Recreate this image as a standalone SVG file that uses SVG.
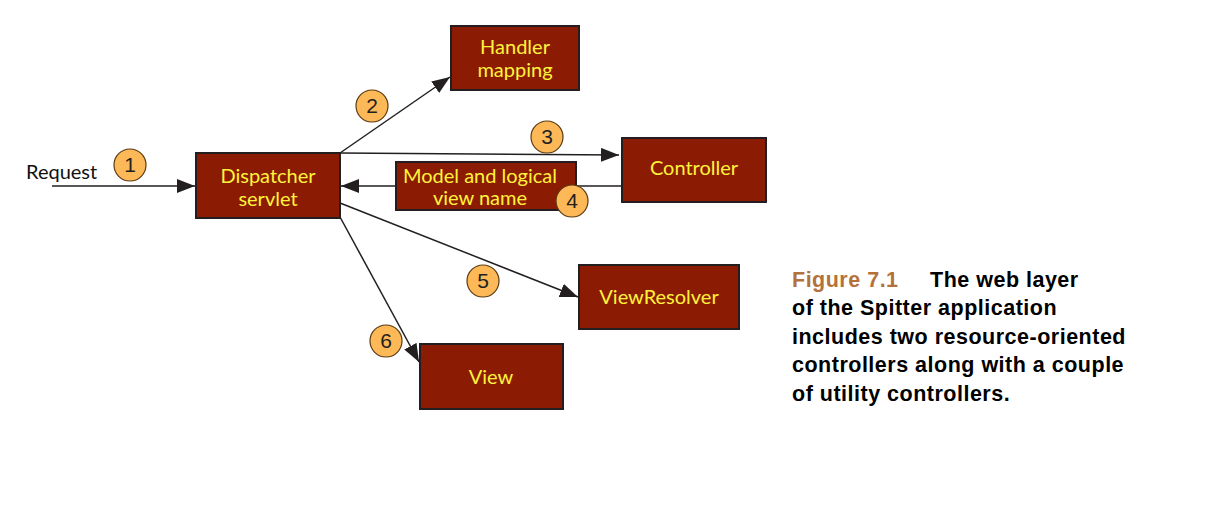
<svg xmlns="http://www.w3.org/2000/svg" width="1214" height="507" viewBox="0 0 1214 507">
<style>
.box{fill:#8B1C03;stroke:#231F20;stroke-width:2}
.lbl{font-family:Lato,"Open Sans",sans-serif;font-size:20px;fill:#FFF23A;text-anchor:middle}
.num{fill:#FDB958;stroke:#5a3a10;stroke-width:1.2}
.numt{font-family:"Liberation Sans",Arial,sans-serif;font-size:21px;fill:#231F20;text-anchor:middle}
.ln{stroke:#231F20;stroke-width:1.5;fill:none}
.cap{font-family:"Liberation Sans",Arial,sans-serif;font-size:21.5px;font-weight:bold;fill:#000;letter-spacing:0.5px}
</style>
<defs>
<marker id="ah" viewBox="0 0 18 14" refX="18" refY="7" markerWidth="18" markerHeight="14" markerUnits="userSpaceOnUse" orient="auto">
<path d="M0,0 L18,7 L0,14 Z" fill="#231F20"/>
</marker>
</defs>
<rect width="1214" height="507" fill="#fff"/>
<g id="connectors">
<line class="ln" x1="52" y1="186" x2="195" y2="186" marker-end="url(#ah)" stroke-width="2"/>
<line class="ln" x1="340" y1="153" x2="450" y2="77" marker-end="url(#ah)"/>
<line class="ln" x1="340" y1="153" x2="619" y2="155" marker-end="url(#ah)"/>
<line class="ln" x1="622" y1="186" x2="341" y2="186" marker-end="url(#ah)"/>
<line class="ln" x1="340" y1="203" x2="578" y2="297" marker-end="url(#ah)"/>
<line class="ln" x1="340" y1="217" x2="419" y2="362" marker-end="url(#ah)"/>
</g>
<text x="26" y="179" font-family="Lato,'Open Sans',sans-serif" font-size="20" fill="#111">Request</text>
<g id="dispatcher">
<rect class="box" x="196" y="153" width="144" height="65"/>
<text class="lbl" x="268" y="183">Dispatcher</text>
<text class="lbl" x="268" y="206">servlet</text>
</g>
<g id="handler">
<rect class="box" x="451" y="26" width="128" height="64"/>
<text class="lbl" x="515" y="54">Handler</text>
<text class="lbl" x="515" y="77">mapping</text>
</g>
<g id="controller">
<rect class="box" x="622" y="138" width="144" height="64"/>
<text class="lbl" x="694" y="175">Controller</text>
</g>
<g id="model">
<rect class="box" x="396" y="162" width="180" height="48"/>
<text class="lbl" x="480" y="183">Model and logical</text>
<text class="lbl" x="480" y="205">view name</text>
</g>
<g id="viewresolver">
<rect class="box" x="579" y="265" width="160" height="64"/>
<text class="lbl" x="659" y="304">ViewResolver</text>
</g>
<g id="view">
<rect class="box" x="420" y="344" width="143" height="65"/>
<text class="lbl" x="491" y="384">View</text>
</g>
<g id="n1"><circle class="num" cx="130" cy="165" r="16"/><text class="numt" x="130" y="172">1</text></g>
<g id="n2"><circle class="num" cx="372" cy="106" r="16"/><text class="numt" x="372" y="113">2</text></g>
<g id="n3"><circle class="num" cx="547" cy="137" r="16"/><text class="numt" x="547" y="144">3</text></g>
<g id="n4"><circle class="num" cx="572" cy="201" r="16"/><text class="numt" x="572" y="208">4</text></g>
<g id="n5"><circle class="num" cx="483" cy="281" r="16"/><text class="numt" x="483" y="288">5</text></g>
<g id="n6"><circle class="num" cx="386" cy="341" r="16"/><text class="numt" x="386" y="348">6</text></g>
<g id="caption">
<text class="cap" x="792" y="287"><tspan fill="#B5713A">Figure 7.1</tspan><tspan x="930">The web layer</tspan></text>
<text class="cap" x="792" y="315">of the Spitter application</text>
<text class="cap" x="792" y="344">includes two resource-oriented</text>
<text class="cap" x="792" y="372">controllers along with a couple</text>
<text class="cap" x="792" y="401">of utility controllers.</text>
</g>
</svg>
